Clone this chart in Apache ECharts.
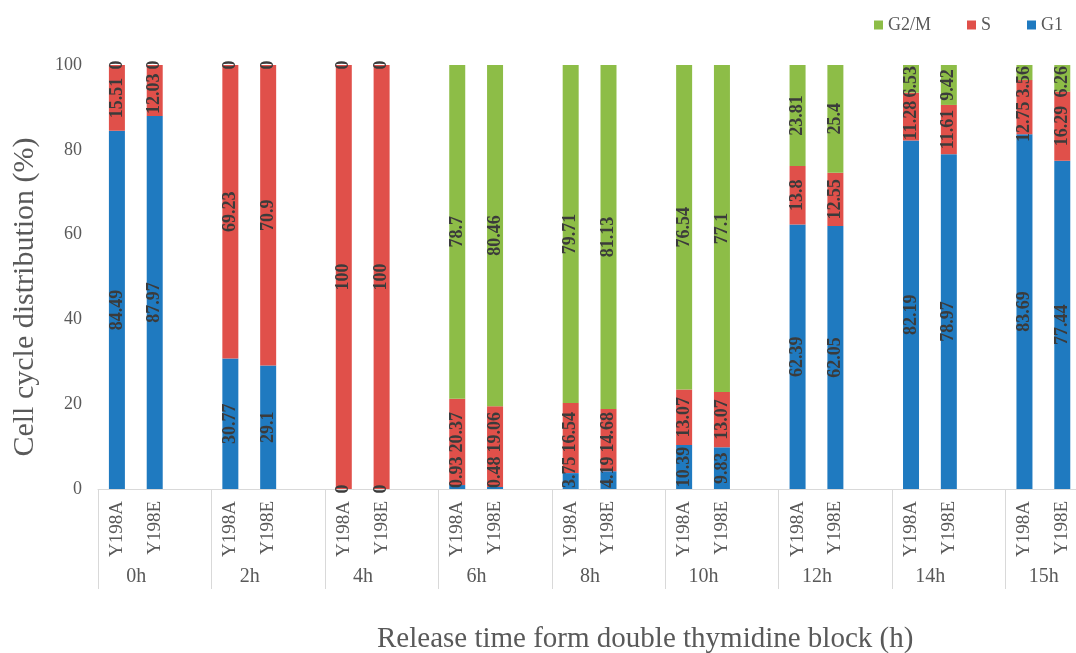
<!DOCTYPE html>
<html>
<head>
<meta charset="utf-8">
<script src="https://cdn.jsdelivr.net/npm/echarts@6/dist/echarts.min.js"></script>
<style>
html,body{margin:0;padding:0;background:#fff;}
#chart{width:1076px;height:653px;}
</style>
</head>
<body>
<div id="chart"></div>
<script>
// ---- data ----
const groups = ['0h','2h','4h','6h','8h','10h','12h','14h','15h'];
const lines = ['Y198A','Y198E'];
const g1  = [84.49, 87.97, 30.77, 29.1, 0, 0, 0.93, 0.48, 3.75, 4.19, 10.39, 9.83, 62.39, 62.05, 82.19, 78.97, 83.69, 77.44];
const sPh = [15.51, 12.03, 69.23, 70.9, 100, 100, 20.37, 19.06, 16.54, 14.68, 13.07, 13.07, 13.8, 12.55, 11.28, 11.61, 12.75, 16.29];
const g2m = [0, 0, 0, 0, 0, 0, 78.7, 80.46, 79.71, 81.13, 76.54, 77.1, 23.81, 25.4, 6.53, 9.42, 3.56, 6.26];
const yTicks = [0, 20, 40, 60, 80, 100];

// ---- build slot-based category axis (two bars + one blank slot per group) ----
const slotCats = [];
const slotIdx = []; // slot -> data index or -1
groups.forEach((g, gi) => {
  lines.forEach((l, li) => { slotCats.push(l); slotIdx.push(gi * lines.length + li); });
  slotCats.push(''); slotIdx.push(-1);
});

const SERIF = '"Liberation Serif", "DejaVu Serif", serif';
const GRAY = '#595959';
const CLAMP_BELOW = 8; // segments thinner than this (in %) get their label pinned to the plot edge

function isClamped(v) { return v > 0 && v < CLAMP_BELOW; }
function units(str) { let u = 0; for (const c of str) u += (c === '.' ? 1 : 2); return u; }

const g1Data = slotIdx.map(i => {
  if (i < 0) return '-';
  if (isClamped(g1[i])) {
    return { value: g1[i], label: { position: 'insideBottom', align: 'left', verticalAlign: 'middle', distance: 1 } };
  }
  return g1[i];
});
const sData = slotIdx.map(i => (i < 0 ? '-' : sPh[i]));
const g2Data = slotIdx.map(i => {
  if (i < 0) return '-';
  if (isClamped(g2m[i])) {
    return { value: g2m[i], label: { position: 'insideTop', align: 'right', verticalAlign: 'middle', distance: 1 } };
  }
  return g2m[i];
});

const labelStyle = {
  show: true,
  position: 'inside',
  rotate: 90,
  fontFamily: SERIF,
  fontWeight: 'bold',
  fontSize: 18,
  color: '#3b3b3b'
};

// keep the S label clear of the neighbouring G1 / G2M labels (like the original)
function sLabelLayout(p) {
  const i = slotIdx[p.dataIndex];
  if (i < 0) return {};
  const r = p.rect;
  const ppu = r.height / sPh[i];
  const len = p.labelRect.height;
  const sU = units(String(sPh[i]));
  const base = r.y + r.height + g1[i] * ppu;
  const top = r.y - g2m[i] * ppu;
  const gap = 4;
  const g1len = len * units(String(g1[i])) / sU;
  const g2len = len * units(String(g2m[i])) / sU;
  const g1Top = isClamped(g1[i]) ? base - 1 - g1len : base - g1[i] * ppu / 2 - g1len / 2;
  const g2Bot = isClamped(g2m[i]) ? top + 1 + g2len : top + g2m[i] * ppu / 2 + g2len / 2;
  let cy = r.y + r.height / 2;
  const orig = cy;
  if (cy + len / 2 > g1Top - gap) cy = g1Top - gap - len / 2;
  if (cy - len / 2 < g2Bot + gap) cy = g2Bot + gap + len / 2;
  if (Math.abs(cy - orig) < 0.5) return {};
  return { x: r.x + r.width / 2, y: cy, align: 'center', verticalAlign: 'middle' };
}

const chart = echarts.init(document.getElementById('chart'));
chart.setOption({
  animation: false,
  backgroundColor: '#fff',
  color: ['#1F7AC0', '#E0504A', '#8DBD47'],
  title: {
    text: 'Release time form double thymidine block (h)',
    left: 372,
    top: 620,
    textStyle: { fontFamily: SERIF, fontWeight: 'normal', fontSize: 29, color: GRAY }
  },
  graphic: [{
    type: 'text',
    x: 25,
    y: 297,
    rotation: Math.PI / 2,
    style: {
      text: 'Cell cycle distribution (%)',
      align: 'center',
      verticalAlign: 'middle',
      font: '30px "Liberation Serif", serif',
      fill: GRAY
    }
  }],
  legend: {
    data: ['G2/M', 'S', 'G1'],
    right: 8,
    top: 11,
    icon: 'rect',
    itemWidth: 9,
    itemHeight: 9,
    itemGap: 36,
    textStyle: { fontFamily: SERIF, fontSize: 18, color: GRAY }
  },
  grid: { left: 98, top: 65, width: 1021, height: 424, outerBoundsMode: 'none', containLabel: false },
  xAxis: [
    {
      type: 'category',
      data: slotCats,
      position: 'bottom',
      axisLine: { show: true, lineStyle: { color: '#d9d9d9', width: 1 } },
      axisTick: { show: false },
      axisLabel: { interval: 0, rotate: 90, margin: 12, fontFamily: SERIF, fontSize: 19, color: GRAY }
    },
    {
      type: 'category',
      data: groups,
      position: 'bottom',
      axisLine: { show: false },
      axisTick: { show: true, interval: 0, length: 100, lineStyle: { color: '#d9d9d9' } },
      axisLabel: { interval: 0, margin: 78, padding: [0, 37, 0, 0], fontFamily: SERIF, fontSize: 20, color: GRAY }
    }
  ],
  yAxis: {
    type: 'value',
    min: yTicks[0],
    max: yTicks[yTicks.length - 1],
    interval: yTicks[1] - yTicks[0],
    axisLine: { show: false },
    axisTick: { show: false },
    splitLine: { show: false },
    axisLabel: { margin: 16, fontFamily: SERIF, fontSize: 18, color: GRAY }
  },
  series: [
    { name: 'G1', type: 'bar', stack: 'all', barWidth: 16, data: g1Data, label: labelStyle },
    { name: 'S', type: 'bar', stack: 'all', barWidth: 16, data: sData, label: labelStyle, labelLayout: sLabelLayout },
    { name: 'G2/M', type: 'bar', stack: 'all', barWidth: 16, data: g2Data, label: labelStyle }
  ]
});
</script>
</body>
</html>
